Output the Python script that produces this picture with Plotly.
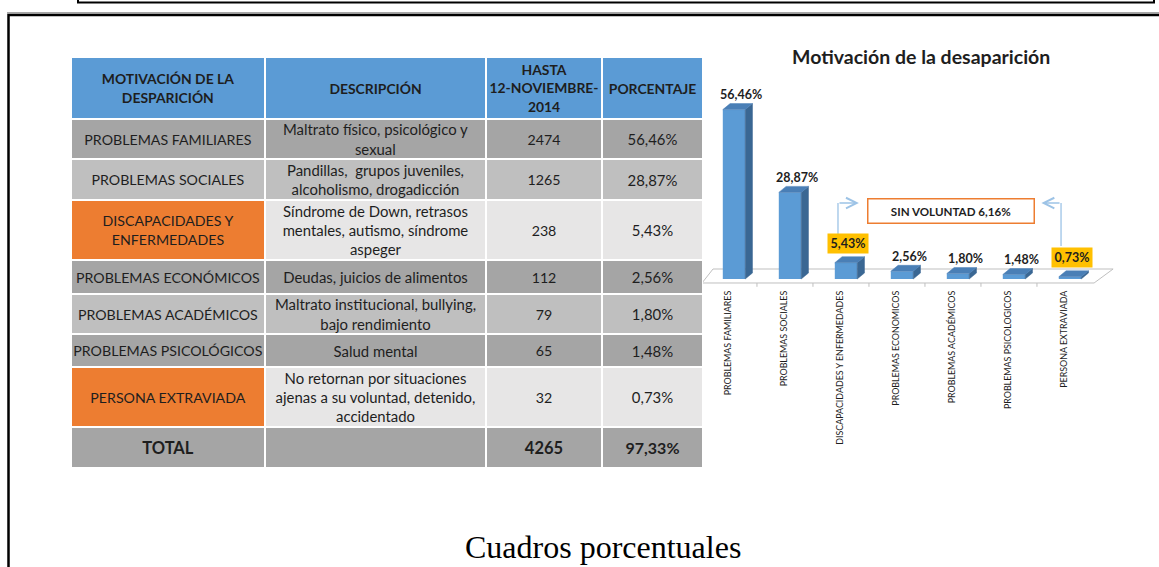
import plotly.graph_objects as go

# ---------------- data ----------------
header_labels = ["MOTIVACIÓN DE LA<br>DESPARICIÓN", "DESCRIPCIÓN",
                 "HASTA<br>12-NOVIEMBRE-<br>2014", "PORCENTAJE"]
motivos = ["PROBLEMAS FAMILIARES", "PROBLEMAS SOCIALES", "DISCAPACIDADES Y<br>ENFERMEDADES",
           "PROBLEMAS ECONÓMICOS", "PROBLEMAS ACADÉMICOS", "PROBLEMAS PSICOLÓGICOS",
           "PERSONA EXTRAVIADA"]
descripciones = ["Maltrato físico, psicológico y<br>sexual",
                 "Pandillas,  grupos juveniles,<br>alcoholismo, drogadicción",
                 "Síndrome de Down, retrasos<br>mentales, autismo, síndrome<br>aspeger",
                 "Deudas, juicios de alimentos",
                 "Maltrato institucional, bullying,<br>bajo rendimiento",
                 "Salud mental",
                 "No retornan por situaciones<br>ajenas a su voluntad, detenido,<br>accidentado"]
casos = [2474, 1265, 238, 112, 79, 65, 32]
porcentajes = ["56,46%", "28,87%", "5,43%", "2,56%", "1,80%", "1,48%", "0,73%"]
total_label = "TOTAL"
total_casos = 4265
total_porcentaje = "97,33%"

chart_title = "Motivación de la desaparición"
chart_categories = ["PROBLEMAS FAMILIARES", "PROBLEMAS SOCIALES", "DISCAPACIDADES Y ENFERMEDADES",
                    "PROBLEMAS ECONOMICOS", "PROBLEMAS ACADÉMICOS", "PROBLEMAS PSICOLOGICOS",
                    "PERSONA EXTRAVIADA"]
chart_values = [56.46, 28.87, 5.43, 2.56, 1.80, 1.48, 0.73]
sin_voluntad = [False, False, True, False, False, False, True]
caption = "Cuadros porcentuales"

# ---------------- layout helpers ----------------
W, H = 1159, 567
def px(x):
    return x / W
def py(y):
    return 1 - y / H

FONT = "Lato"
TXT = "#1E1E1E"
BLUE = "#5B9BD5"
ORANGE = "#ED7D31"
DARK = "#A5A5A5"
MID = "#BFBFBF"
LIGHT = "#E7E6E6"

fig = go.Figure()

# ---------------- table (cells as bars on their own axes) ----------------
row_h = [62, 40, 41, 60, 34, 40, 33, 60, 41]
col_w = [194, 221, 116, 101]
t_top, t_left = 57, 71
centers, y = [], t_top
for h in row_h:
    centers.append(y + h / 2)
    y += h
t_bottom = y
lefts, x = [], t_left
for w in col_w:
    lefts.append(x)
    x += w
t_right = x

row_fill = [DARK, MID, LIGHT, DARK, MID, DARK, LIGHT, DARK]
cols_text = [
    ["<b>" + header_labels[0] + "</b>"] + motivos + ["<b>" + total_label + "</b>"],
    ["<b>" + header_labels[1] + "</b>"] + descripciones + [""],
    ["<b>" + header_labels[2] + "</b>"] + [str(c) for c in casos] + ["<b>%d</b>" % total_casos],
    ["<b>" + header_labels[3] + "</b>"] + porcentajes + ["<b>" + total_porcentaje + "</b>"],
]
body_sizes = [14.2, 14.9, 14.2, 14.9]
total_sizes = [16.5, 14.9, 16.5, 16.0]
for j in range(4):
    fills = [BLUE]
    for r in range(len(motivos)):
        fills.append(ORANGE if (j == 0 and sin_voluntad[r]) else row_fill[r])
    fills.append(row_fill[-1])
    sizes = [13.9] + [body_sizes[j]] * len(motivos) + [total_sizes[j]]
    fig.add_trace(go.Bar(
        orientation="h", y=centers, x=[col_w[j]] * len(centers), base=[lefts[j]] * len(centers),
        width=row_h, xaxis="x2", yaxis="y2",
        marker=dict(color=fills, line=dict(color="white", width=2)),
        text=cols_text[j], textposition="inside", insidetextanchor="middle",
        textangle=0, constraintext="none",
        textfont=dict(family=FONT, size=sizes, color=TXT),
        hoverinfo="skip", showlegend=False))

# ---------------- 3D-like column chart ----------------
idx = list(range(len(chart_values)))
bw = 0.4
ddx, ddy = 0.13, 2.0

fig.add_trace(go.Bar(x=idx, y=chart_values, width=bw, marker=dict(color=BLUE, line=dict(width=0)),
                     hoverinfo="skip", showlegend=False))
for i, v in zip(idx, chart_values):
    xr = i + bw / 2
    xl = i - bw / 2
    fig.add_trace(go.Scatter(x=[xr, xr + ddx, xr + ddx, xr, xr], y=[0, ddy, v + ddy, v, 0],
                             mode="lines", fill="toself", fillcolor="#3A6793",
                             line=dict(width=0.5, color="#3A6793"), hoverinfo="skip", showlegend=False))
    fig.add_trace(go.Scatter(x=[xl, xr, xr + ddx, xl + ddx, xl], y=[v, v, v + ddy, v + ddy, v],
                             mode="lines", fill="toself", fillcolor="#4A7FB6",
                             line=dict(width=0.5, color="#4A7FB6"), hoverinfo="skip", showlegend=False))

shapes = []
# floor plane
shapes.append(dict(type="path", xref="x", yref="y", layer="below",
                   path="M -0.571,-1.33 L 6.43,-1.33 L 6.77,3.33 L -0.375,3.33 Z",
                   line=dict(color="#BFBFBF", width=1)))
for k in range(len(idx) - 1):
    shapes.append(dict(type="line", xref="x", yref="y", layer="below",
                       x0=k + 0.41, x1=k + 0.41, y0=-1.33, y1=-2.6,
                       line=dict(color="#BFBFBF", width=1)))

annotations = []
for i, v, hl in zip(idx, chart_values, sin_voluntad):
    label = ("%.2f" % v).replace(".", ",") + "%"
    if hl:
        annotations.append(dict(x=i, y=v, xref="x", yref="y", text="<b>" + label + "</b>",
                                showarrow=False, xanchor="center", yanchor="middle", yshift=19, xshift=2,
                                bgcolor="#FFC000", width=40, height=19, borderpad=0,
                                font=dict(family=FONT, size=12.5, color=TXT)))
    else:
        annotations.append(dict(x=i, y=v, xref="x", yref="y", text="<b>" + label + "</b>",
                                showarrow=False, xanchor="center", yanchor="middle", yshift=15, xshift=7,
                                font=dict(family=FONT, size=12.5, color=TXT)))

sv_total = sum(v for v, hl in zip(chart_values, sin_voluntad) if hl)
annotations.append(dict(x=3.875, y=22.67, xref="x", yref="y", xanchor="center", yanchor="middle",
                        text="<b>SIN VOLUNTAD " + ("%.2f" % sv_total).replace(".", ",") + "%</b>",
                        showarrow=False, bgcolor="white", bordercolor=ORANGE, borderwidth=1.5,
                        borderpad=0, width=165, height=23,
                        font=dict(family=FONT, size=11.6, color=TXT)))
ARROW = "#9DC3E6"
shapes.append(dict(type="line", xref="x", yref="y", x0=1.857, x1=1.857, y0=15, y1=25.33,
                   line=dict(color=ARROW, width=1.3)))
shapes.append(dict(type="line", xref="x", yref="y", x0=5.84, x1=5.84, y0=11, y1=25.33,
                   line=dict(color=ARROW, width=1.3)))
annotations.append(dict(x=2.23, y=25.33, ax=1.857, ay=25.33, xref="x", yref="y", axref="x", ayref="y",
                        text="", showarrow=True, arrowhead=5, arrowsize=1.6, arrowwidth=1.3,
                        arrowcolor=ARROW))
annotations.append(dict(x=5.49, y=25.33, ax=5.84, ay=25.33, xref="x", yref="y", axref="x", ayref="y",
                        text="", showarrow=True, arrowhead=5, arrowsize=1.6, arrowwidth=1.3,
                        arrowcolor=ARROW))

annotations.append(dict(x=px(921), y=py(57), xref="paper", yref="paper", xanchor="center", yanchor="middle",
                        text="<b>" + chart_title + "</b>",
                        showarrow=False, font=dict(family=FONT, size=19.5, color=TXT)))
annotations.append(dict(x=px(603), y=py(547), xref="paper", yref="paper", xanchor="center", yanchor="middle",
                        text=caption,
                        showarrow=False, font=dict(family="Liberation Serif", size=32, color="black")))

# page frames
shapes.append(dict(type="rect", xref="paper", yref="paper", x0=px(78), x1=px(1154), y0=py(2.5), y1=1.2,
                   line=dict(color="black", width=2)))
shapes.append(dict(type="line", xref="paper", yref="paper", x0=px(7), x1=1.1, y0=py(12.8), y1=py(12.8),
                   line=dict(color="#A6A6A6", width=1.5)))
shapes.append(dict(type="rect", xref="paper", yref="paper", x0=px(8.5), x1=1.1, y0=-0.2, y1=py(15),
                   line=dict(color="black", width=2.5)))

x0_px = 734 - 0.75 * 56
x1_px = 734 + 6.85 * 56
fig.update_layout(
    width=W, height=H, margin=dict(l=0, r=0, t=0, b=0),
    paper_bgcolor="white", plot_bgcolor="rgba(0,0,0,0)",
    barmode="overlay", showlegend=False,
    xaxis=dict(domain=[px(x0_px), px(x1_px)], range=[-0.75, 6.85], showgrid=False, zeroline=False,
               showline=False, ticks="", tickmode="array",
               tickvals=[i - 0.11 for i in idx], ticktext=chart_categories, tickangle=-90,
               tickfont=dict(family=FONT, size=8.9, color=TXT), fixedrange=True),
    yaxis=dict(domain=[py(288), py(93)], range=[-3, 62], visible=False, fixedrange=True),
    xaxis2=dict(domain=[px(t_left), px(t_right)], range=[t_left, t_right], visible=False,
                anchor="y2", fixedrange=True),
    yaxis2=dict(domain=[py(t_bottom), py(t_top)], range=[t_bottom, t_top], visible=False,
                anchor="x2", fixedrange=True),
    shapes=shapes, annotations=annotations,
)

fig.write_html("out.html", config={"displayModeBar": False},
               post_script="document.body.style.margin='0px';")
